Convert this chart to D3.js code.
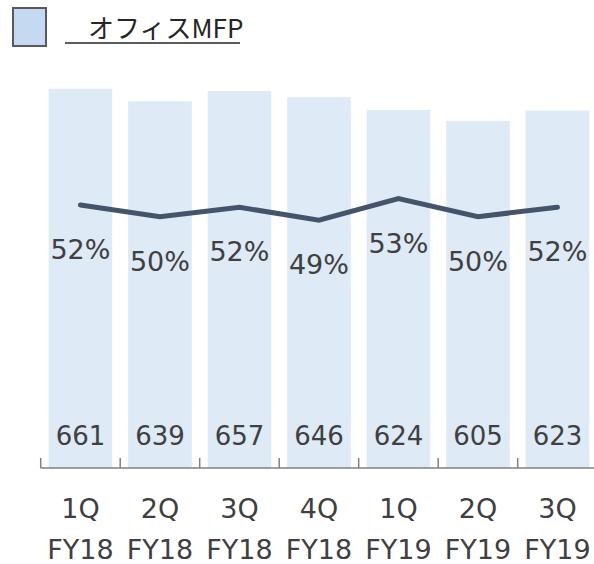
<!DOCTYPE html>
<html>
<head>
<meta charset="utf-8">
<script src="https://cdn.jsdelivr.net/npm/d3@7/dist/d3.min.js"></script>
<style>
  body { margin: 0; background: #fff; }
  svg { display: block; }
</style>
</head>
<body>
<div id="chart"></div>
<script>
// data
const quarters = ["1Q", "2Q", "3Q", "4Q", "1Q", "2Q", "3Q"];
const years = ["FY18", "FY18", "FY18", "FY18", "FY19", "FY19", "FY19"];
const units = [661, 639, 657, 646, 624, 605, 623];
const share = [52.3, 50.3, 51.9, 49.7, 53.4, 50.3, 51.9];
const shareLabels = ["52%", "50%", "52%", "49%", "53%", "50%", "52%"];
const legendLabel = "オフィスMFP";

const dimension = {
    width: 594,
    height: 564,
    left: 40.7,
    right: 597.2,
    baseline: 468
};

const svg = d3.select("#chart").append("svg")
    .attr("width", dimension.width)
    .attr("height", dimension.height);

const ids = d3.range(units.length);

// scales
const xAxisScale = d3.scaleBand()
    .domain(ids)
    .range([dimension.left, dimension.right]);

const xBars = d3.scaleBand()
    .domain(ids)
    .range([dimension.left, dimension.right])
    .paddingInner(0.2)
    .paddingOuter(0.1);

const yUnits = d3.scaleLinear()
    .domain([0, 700])
    .range([dimension.baseline, dimension.baseline - 700 * 0.5738]);

const yShare = d3.scaleLinear()
    .domain([45, 55])
    .range([247.65, 189.15]);

// bars
svg.append("g").selectAll("rect")
    .data(ids)
    .join("rect")
    .attr("x", i => xBars(i))
    .attr("y", i => yUnits(units[i]))
    .attr("width", xBars.bandwidth())
    .attr("height", i => yUnits(0) - yUnits(units[i]))
    .attr("fill", "#deeaf6");

// axis line with upward ticks at band edges
const axis = svg.append("g").attr("stroke", "#808080").attr("stroke-width", 1.5);
axis.append("line")
    .attr("x1", dimension.left).attr("x2", dimension.right)
    .attr("y1", dimension.baseline).attr("y2", dimension.baseline);
const edges = ids.map(i => xAxisScale(i)).concat([dimension.right]);
axis.selectAll(".tick")
    .data(edges)
    .join("line")
    .attr("class", "tick")
    .attr("x1", d => d).attr("x2", d => d)
    .attr("y1", dimension.baseline - 10).attr("y2", dimension.baseline);

// share line
const line = d3.line()
    .x(i => xAxisScale(i) + xAxisScale.bandwidth() / 2)
    .y(i => yShare(share[i]));

svg.append("path")
    .datum(ids)
    .attr("d", line)
    .attr("fill", "none")
    .attr("stroke", "#44546a")
    .attr("stroke-width", 5)
    .attr("stroke-linecap", "round")
    .attr("stroke-linejoin", "miter");

const font = "'DejaVu Sans', Verdana, sans-serif";
const cx = i => xAxisScale(i) + xAxisScale.bandwidth() / 2;

// share labels
svg.append("g").selectAll("text")
    .data(ids)
    .join("text")
    .attr("x", cx)
    .attr("y", i => yShare(share[i]) + 54)
    .attr("text-anchor", "middle")
    .attr("font-family", font)
    .attr("font-size", 27)
    .attr("fill", "#404040")
    .text(i => shareLabels[i]);

// unit labels
svg.append("g").selectAll("text")
    .data(ids)
    .join("text")
    .attr("x", cx)
    .attr("y", 445)
    .attr("text-anchor", "middle")
    .attr("font-family", font)
    .attr("font-size", 26)
    .attr("fill", "#404040")
    .text(i => units[i]);

// category labels
const cats = svg.append("g")
    .attr("font-family", font)
    .attr("font-size", 27)
    .attr("fill", "#404040")
    .attr("text-anchor", "middle");
cats.selectAll(".q")
    .data(ids)
    .join("text")
    .attr("class", "q")
    .attr("x", cx)
    .attr("y", 518)
    .text(i => quarters[i]);
cats.selectAll(".fy")
    .data(ids)
    .join("text")
    .attr("class", "fy")
    .attr("x", cx)
    .attr("y", 559)
    .text(i => years[i]);

// legend
const legend = svg.append("g");
legend.append("rect")
    .attr("x", 13).attr("y", 8)
    .attr("width", 33).attr("height", 38)
    .attr("fill", "#c5d9f1")
    .attr("stroke", "#595959")
    .attr("stroke-width", 2);
legend.append("text")
    .attr("x", 88)
    .attr("y", 38)
    .attr("font-family", "'Noto Sans CJK JP', 'Noto Sans', sans-serif")
    .attr("font-size", 26)
    .attr("fill", "#262626")
    .text(legendLabel);
legend.append("line")
    .attr("x1", 65).attr("x2", 240)
    .attr("y1", 43).attr("y2", 43)
    .attr("stroke", "#262626")
    .attr("stroke-width", 1.5);
</script>
</body>
</html>
